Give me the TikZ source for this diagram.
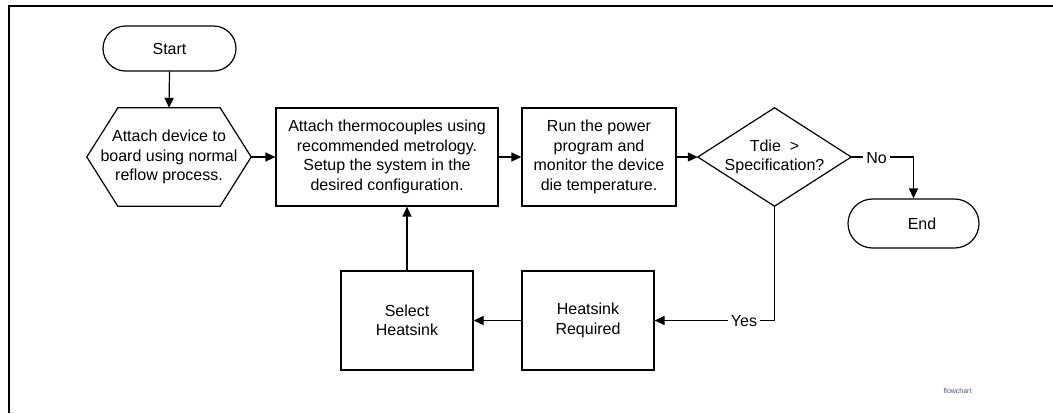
\documentclass[tikz,border=0pt]{standalone}
\usepackage{fontspec}
\setmainfont{Liberation Sans}
\usetikzlibrary{arrows.meta}
\begin{document}
\begin{tikzpicture}[x=1pt,y=-1pt,
  every node/.style={font=\fontsize{16}{19.5}\selectfont, align=center, inner sep=0pt},
  stadium/.style={draw, line width=1.2pt, rounded corners=22pt, minimum height=#1},
  boxnode/.style={draw, line width=1.2pt},
  ghost/.style={draw=none},
  outline/.style={line width=1.2pt},
  conn/.style={line width=1.2pt},
  arr/.style={conn, -{Triangle[length=10pt,width=9pt]}},
  lbl/.style={fill=white, inner xsep=3pt, inner ysep=1pt},
  frame/.style={line width=2pt}
]
\useasboundingbox (0,0) rectangle (1053,413);
\draw[frame] (8.7,413) -- (8.7,5.6) -- (1053,5.6);

% Start
\node[stadium=45pt, minimum width=133pt, rounded corners=22.5pt] (start) at (169.5,48.5) {Start};
% Hexagon
\node[ghost, minimum width=164pt, minimum height=98pt] (hex) at (169,157) {Attach device to\\board using normal\\reflow process.};
\draw[outline] (hex.west) -- ([xshift=31pt]hex.north west) -- ([xshift=-31pt]hex.north east) -- (hex.east) -- ([xshift=-31pt]hex.south east) -- ([xshift=31pt]hex.south west) -- cycle;
% Box1
\node[boxnode, minimum width=222pt, minimum height=98pt] (box1) at (387,157) {Attach thermocouples using\\recommended metrology.\\Setup the system in the\\desired configuration.};
% Box2
\node[boxnode, minimum width=154pt, minimum height=98pt] (box2) at (599,157) {Run the power\\program and\\monitor the device\\die temperature.};
% Decision
\node[ghost, minimum width=153pt, minimum height=98pt] (dec) at (774.5,157) {Tdie\ \ >\\Specification?};
\draw[outline] (dec.west) -- (dec.north) -- (dec.east) -- (dec.south) -- cycle;
% End
\node[stadium=49pt, minimum width=131pt, rounded corners=24.5pt] (end) at (913.5,223.5) {\hspace*{17pt}End};
% Heatsink Required
\node[boxnode, minimum width=132pt, minimum height=99pt] (hr) at (588,320.5) {Heatsink\\Required};
% Select Heatsink
\node[boxnode, minimum width=132pt, minimum height=99pt] (sel) at (407,320.5) {Select\\Heatsink};
% tiny label
\node[font=\fontsize{7}{8}\selectfont, text={rgb,255:red,70;green,85;blue,120}] (fc) at (957.5,390.5) {flowchart};

% connectors
\draw[arr] (start.south) -- (hex.north);
\draw[arr] (hex.east) -- (box1.west);
\draw[arr] (box1.east) -- (box2.west);
\draw[arr] (box2.east) -- (dec.west);
\coordinate (ncorner) at (end.north |- dec.east);
\draw[arr] (dec.east) -- (ncorner) -- (end.north);
\node[lbl] (no) at (876.5,158) {No};
\coordinate (ycorner) at (dec.south |- hr.east);
\draw[arr] (dec.south) -- (ycorner) -- (hr.east);
\node[lbl] (yes) at (744,321) {Yes};
\draw[arr] (hr.west) -- (sel.east);
\draw[arr] (sel.north) -- (sel.north |- box1.south);
\end{tikzpicture}
\end{document}
